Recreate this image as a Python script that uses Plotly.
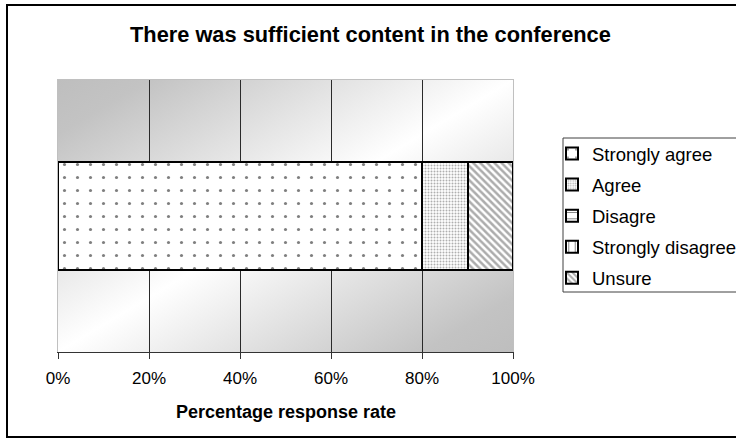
import base64
import plotly.graph_objects as go

# ---- data ----
categories = ["Conference content"]
series_names = ["Strongly agree", "Agree", "Disagre", "Strongly disagree", "Unsure"]
series_values = [0.80, 0.10, 0.0, 0.0, 0.10]
tick_values = [0, 0.2, 0.4, 0.6, 0.8, 1.0]
tick_labels = ["0%", "20%", "40%", "60%", "80%", "100%"]
grid_values = [0.2, 0.4, 0.6, 0.8]

# ---- styling ----
W, H = 736, 446
PX_L, PX_R, PX_T, PX_B = 58, 513, 80, 352  # plot area in pixels


def px_x(p):
    return (p - PX_L) / (PX_R - PX_L)


def px_y(p):
    return (PX_B - p) / (PX_B - PX_T)


FONT = "Liberation Sans, Arial, sans-serif"

fills = {
    "Strongly agree": dict(shape=".", size=13, solidity=0.045, fgcolor="#000000", bgcolor="#ffffff"),
    "Agree": dict(shape=".", size=3, solidity=0.35, fgcolor="#5f5f5f", bgcolor="#ffffff"),
    "Disagre": dict(shape="-", size=8, solidity=0.15, fgcolor="#000000", bgcolor="#ffffff"),
    "Strongly disagree": dict(shape="|", size=8, solidity=0.15, fgcolor="#000000", bgcolor="#ffffff"),
    "Unsure": dict(shape="\\", size=5, solidity=0.5, fgcolor="#5a5a5a", bgcolor="#ffffff"),
}

fig = go.Figure()
for name, val in zip(series_names, series_values):
    fig.add_trace(go.Bar(
        name=name,
        y=categories,
        x=[val],
        orientation="h",
        width=0.4,
        legendgroup=name,
        marker=dict(color="#ffffff", pattern=fills[name],
                    line=dict(color="#000000", width=2)),
        hoverinfo="skip",
    ))

# overlay axis used only for the vertical gridlines
fig.add_trace(go.Scatter(x=[], y=[], xaxis="x2", yaxis="y", showlegend=False,
                         hoverinfo="skip"))

# diagonal grey-white-grey plot area background
svg = (
    '<svg xmlns="http://www.w3.org/2000/svg" width="100" height="100" '
    'viewBox="0 0 100 100" preserveAspectRatio="none">'
    '<defs><linearGradient id="g" x1="0" y1="0" x2="1" y2="1">'
    '<stop offset="0" stop-color="#bebebe"/>'
    '<stop offset="0.1" stop-color="#c3c3c3"/>'
    '<stop offset="0.5" stop-color="#ffffff"/>'
    '<stop offset="0.9" stop-color="#c3c3c3"/>'
    '<stop offset="1" stop-color="#bebebe"/>'
    '</linearGradient></defs>'
    '<rect width="100" height="100" fill="url(#g)"/></svg>'
)
bg_uri = "data:image/svg+xml;base64," + base64.b64encode(svg.encode()).decode()

fig.update_layout(
    width=W, height=H,
    margin=dict(l=PX_L, r=W - PX_R, t=PX_T, b=H - PX_B, autoexpand=False),
    paper_bgcolor="#ffffff",
    plot_bgcolor="#ffffff",
    barmode="stack",
    font=dict(family=FONT, color="#000000"),
    showlegend=True,
    legend=dict(
        x=px_x(552), y=px_y(135), xanchor="left", yanchor="top",
        xref="paper", yref="paper",
        font=dict(family=FONT, size=18.5, color="#000000"),
        borderwidth=0, bgcolor="rgba(0,0,0,0)",
        traceorder="grouped", tracegroupgap=4,
    ),
    xaxis=dict(
        range=[0, 1], tickvals=tick_values, ticktext=tick_labels,
        ticks="outside", ticklen=6, tickcolor="#333333",
        ticklabelstandoff=5,
        showline=True, linecolor="#333333", linewidth=1,
        showgrid=False, zeroline=False,
        tickfont=dict(family=FONT, size=17, color="#000000"),
    ),
    xaxis2=dict(
        overlaying="x", anchor="y", side="top", range=[0, 1],
        tickvals=grid_values, showticklabels=False, ticks="",
        showgrid=True, gridcolor="#2a2a2a", gridwidth=1,
        showline=True, linecolor="#c0c0c0", linewidth=1, zeroline=False,
    ),
    yaxis=dict(
        type="category", range=[-0.5, 0.5], showticklabels=False,
        showgrid=False, zeroline=False, ticks="",
        showline=True, mirror=True, linecolor="#c0c0c0", linewidth=1,
    ),
    images=[dict(source=bg_uri, xref="paper", yref="paper", x=0, y=1,
                 sizex=1, sizey=1, xanchor="left", yanchor="top",
                 sizing="stretch", layer="below")],
    shapes=[
        # outer chart frame
        dict(type="rect", xref="paper", yref="paper",
             x0=px_x(7), x1=px_x(745), y0=px_y(437), y1=px_y(5),
             line=dict(color="#000000", width=2), fillcolor="rgba(0,0,0,0)"),
        # legend frame
        dict(type="rect", xref="paper", yref="paper",
             x0=px_x(563), x1=px_x(745), y0=px_y(292), y1=px_y(138),
             line=dict(color="#404040", width=1), fillcolor="#ffffff",
             layer="below"),
    ],
    annotations=[
        dict(text="<b>There was sufficient content in the conference</b>",
             xref="paper", yref="paper", x=px_x(370), y=px_y(35),
             xanchor="center", yanchor="middle", showarrow=False,
             font=dict(family=FONT, size=21.8, color="#000000")),
        dict(text="<b>Percentage response rate</b>",
             xref="paper", yref="paper", x=px_x(285.5), y=px_y(412),
             xanchor="center", yanchor="middle", showarrow=False,
             font=dict(family=FONT, size=18, color="#000000")),
    ],
)

fig.write_html("out.html")
